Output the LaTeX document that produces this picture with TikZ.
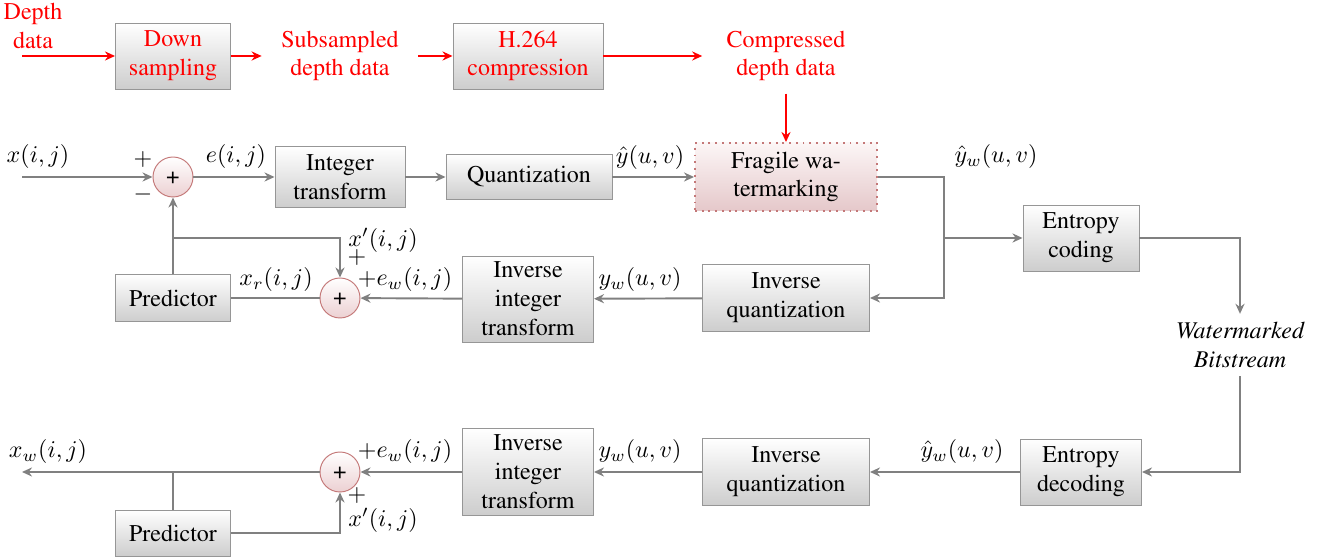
\documentclass[tikz,border=0pt]{standalone}
\usepackage[T1]{fontenc}
\usepackage{times}
\usetikzlibrary{arrows.meta}
\definecolor{boxbot}{RGB}{205,205,205}
\definecolor{boxdraw}{RGB}{150,150,150}
\definecolor{pinkbot}{RGB}{229,200,202}
\definecolor{pinktop}{RGB}{252,246,246}
\definecolor{pinkdraw}{RGB}{196,120,120}
\definecolor{circbot}{RGB}{236,208,210}
\definecolor{linegray}{RGB}{128,128,128}
\begin{document}
\begin{tikzpicture}[x=0.41667pt,y=-0.41667pt,
  font=\rmfamily\fontsize{10}{12}\selectfont,
  blk/.style 2 args={draw=boxdraw, top color=white, bottom color=boxbot, align=center,
    minimum width=#1*0.41667pt, minimum height=#2*0.41667pt, inner sep=0pt},
  frag/.style={draw=pinkdraw, dotted, line width=0.8pt, top color=pinktop, bottom color=pinkbot,
    align=center, minimum width=182*0.41667pt, minimum height=68*0.41667pt, inner sep=0pt},
  sumc/.style={circle, draw=pinkdraw, top color=white, bottom color=circbot,
    minimum size=40*0.41667pt, inner sep=0pt, font=\sffamily\fontsize{10}{12}\selectfont},
  ln/.style={draw=linegray, line width=0.8pt},
  arr/.style={ln, -{Stealth[length=4.2pt,width=3.8pt,inset=1.4pt]}},
  rarr/.style={draw=red, line width=0.8pt, -{Stealth[length=4.2pt,width=3.8pt,inset=1.4pt]}},
  rtxt/.style={text=red, align=center},
  lbl/.style={inner sep=0pt}]
\useasboundingbox (0,0) rectangle (1319,558);

% ---- top red chain
\node[rtxt, inner sep=0pt] (dd) at (33,26) {Depth\\data};
\coordinate (ddin) at (22,56);
\node[blk={115}{66}, text=red] (down) at (173,56) {Down\\sampling};
\node[rtxt, inner xsep=8pt, inner ysep=0pt] (sub) at (340,56) {Subsampled\\depth data};
\node[blk={150}{66}, text=red] (h264) at (528,56) {H.264\\compression};
\node[rtxt, inner xsep=10pt, inner ysep=5pt] (comp) at (786,56) {Compressed\\depth data};

% ---- encoder row 1
\coordinate (xin) at (22,177);
\node[sumc] (s1) at (173,177) {+};
\node[blk={130}{61}] (it) at (340,177) {Integer\\transform};
\node[blk={166}{45}] (q) at (529,177) {Quantization};
\node[frag] (fw) at (786,177) {Fragile wa-\\termarking};
\coordinate (c1) at (944,177);
\coordinate (c2) at (944,298);
\coordinate (j2) at (944,238);
\node[blk={116}{66}] (ec) at (1081,238) {Entropy\\coding};
\node[font=\rmfamily\itshape\fontsize{10}{12}\selectfont, align=center] (wb) at (1240,345) {Watermarked\\Bitstream};

% ---- encoder row 2
\node[blk={167}{67}] (iq) at (786,298) {Inverse\\quantization};
\node[blk={131}{86}] (iit) at (528,299) {Inverse\\integer\\transform};
\node[sumc] (s2) at (340,298) {+};
\node[blk={115}{47}] (pred) at (173,298) {Predictor};
\coordinate (j3) at (173,238);

% ---- decoder row
\node[blk={121}{66}] (ed) at (1081,472) {Entropy\\decoding};
\node[blk={167}{67}] (iq2) at (786,472) {Inverse\\quantization};
\node[blk={131}{87}] (iit2) at (528,472) {Inverse\\integer\\transform};
\node[sumc] (s3) at (340,472) {+};
\node[blk={115}{46}] (pred2) at (173,533) {Predictor};
\coordinate (xout) at (22,472);
\coordinate (j4) at (173,472);

% ---- red arrows
\draw[rarr] (ddin) -- (down.west);
\draw[rarr] (down.east) -- (sub.west);
\draw[rarr] (sub.east) -- (h264.west);
\draw[rarr] (h264.east) -- (comp.west);
\draw[rarr] (comp.south) -- (fw.north);

% ---- encoder connectors
\draw[arr] (xin) -- (s1);
\draw[arr] (s1) -- (it);
\draw[arr] (it) -- (q);
\draw[arr] (q) -- (fw);
\draw[arr] (fw.east) -- (c1) -- (c2) -- (iq.east);
\draw[arr] (j2) -- (ec.west);
\draw[arr] (ec.east) -| (wb.north);
\draw[arr] (iq) -- (iit);
\draw[arr] (iit) -- (s2);
\draw[ln] (s2) -- (pred);
\draw[arr] (pred) -- (s1);
\draw[arr] (j3) -| (s2);

% ---- decoder connectors
\draw[arr] (wb.south) |- (ed.east);
\draw[arr] (ed) -- (iq2);
\draw[arr] (iq2) -- (iit2);
\draw[arr] (iit2) -- (s3);
\draw[arr] (s3) -- (xout);
\draw[ln] (pred2) -- (j4);
\draw[arr] (pred2) -| (s3);

% ---- labels
\node[lbl] (l1) at (38,157) {$x(i,j)$};
\node[lbl] (l2) at (143,160) {$+$};
\node[lbl] (l3) at (143,195) {$-$};
\node[lbl] (l4) at (236,157) {$e(i,j)$};
\node[lbl] (l5) at (650,158) {$\hat{y}(u,v)$};
\node[lbl] (l6) at (996,157) {$\hat{y}_w(u,v)$};
\node[lbl] (l7) at (383,240) {$x'(i,j)$};
\node[lbl] (l8) at (357,258) {$+$};
\node[lbl] (l9) at (405,280) {$+e_w(i,j)$};
\node[lbl] (l10) at (276,280) {$x_r(i,j)$};
\node[lbl] (l11) at (640,280) {$y_w(u,v)$};
\node[lbl] (l12) at (48,452) {$x_w(i,j)$};
\node[lbl] (l13) at (405,452) {$+e_w(i,j)$};
\node[lbl] (l14) at (357,496) {$+$};
\node[lbl] (l15) at (383,520) {$x'(i,j)$};
\node[lbl] (l16) at (640,452) {$y_w(u,v)$};
\node[lbl] (l17) at (962,452) {$\hat{y}_w(u,v)$};
\end{tikzpicture}
\end{document}
